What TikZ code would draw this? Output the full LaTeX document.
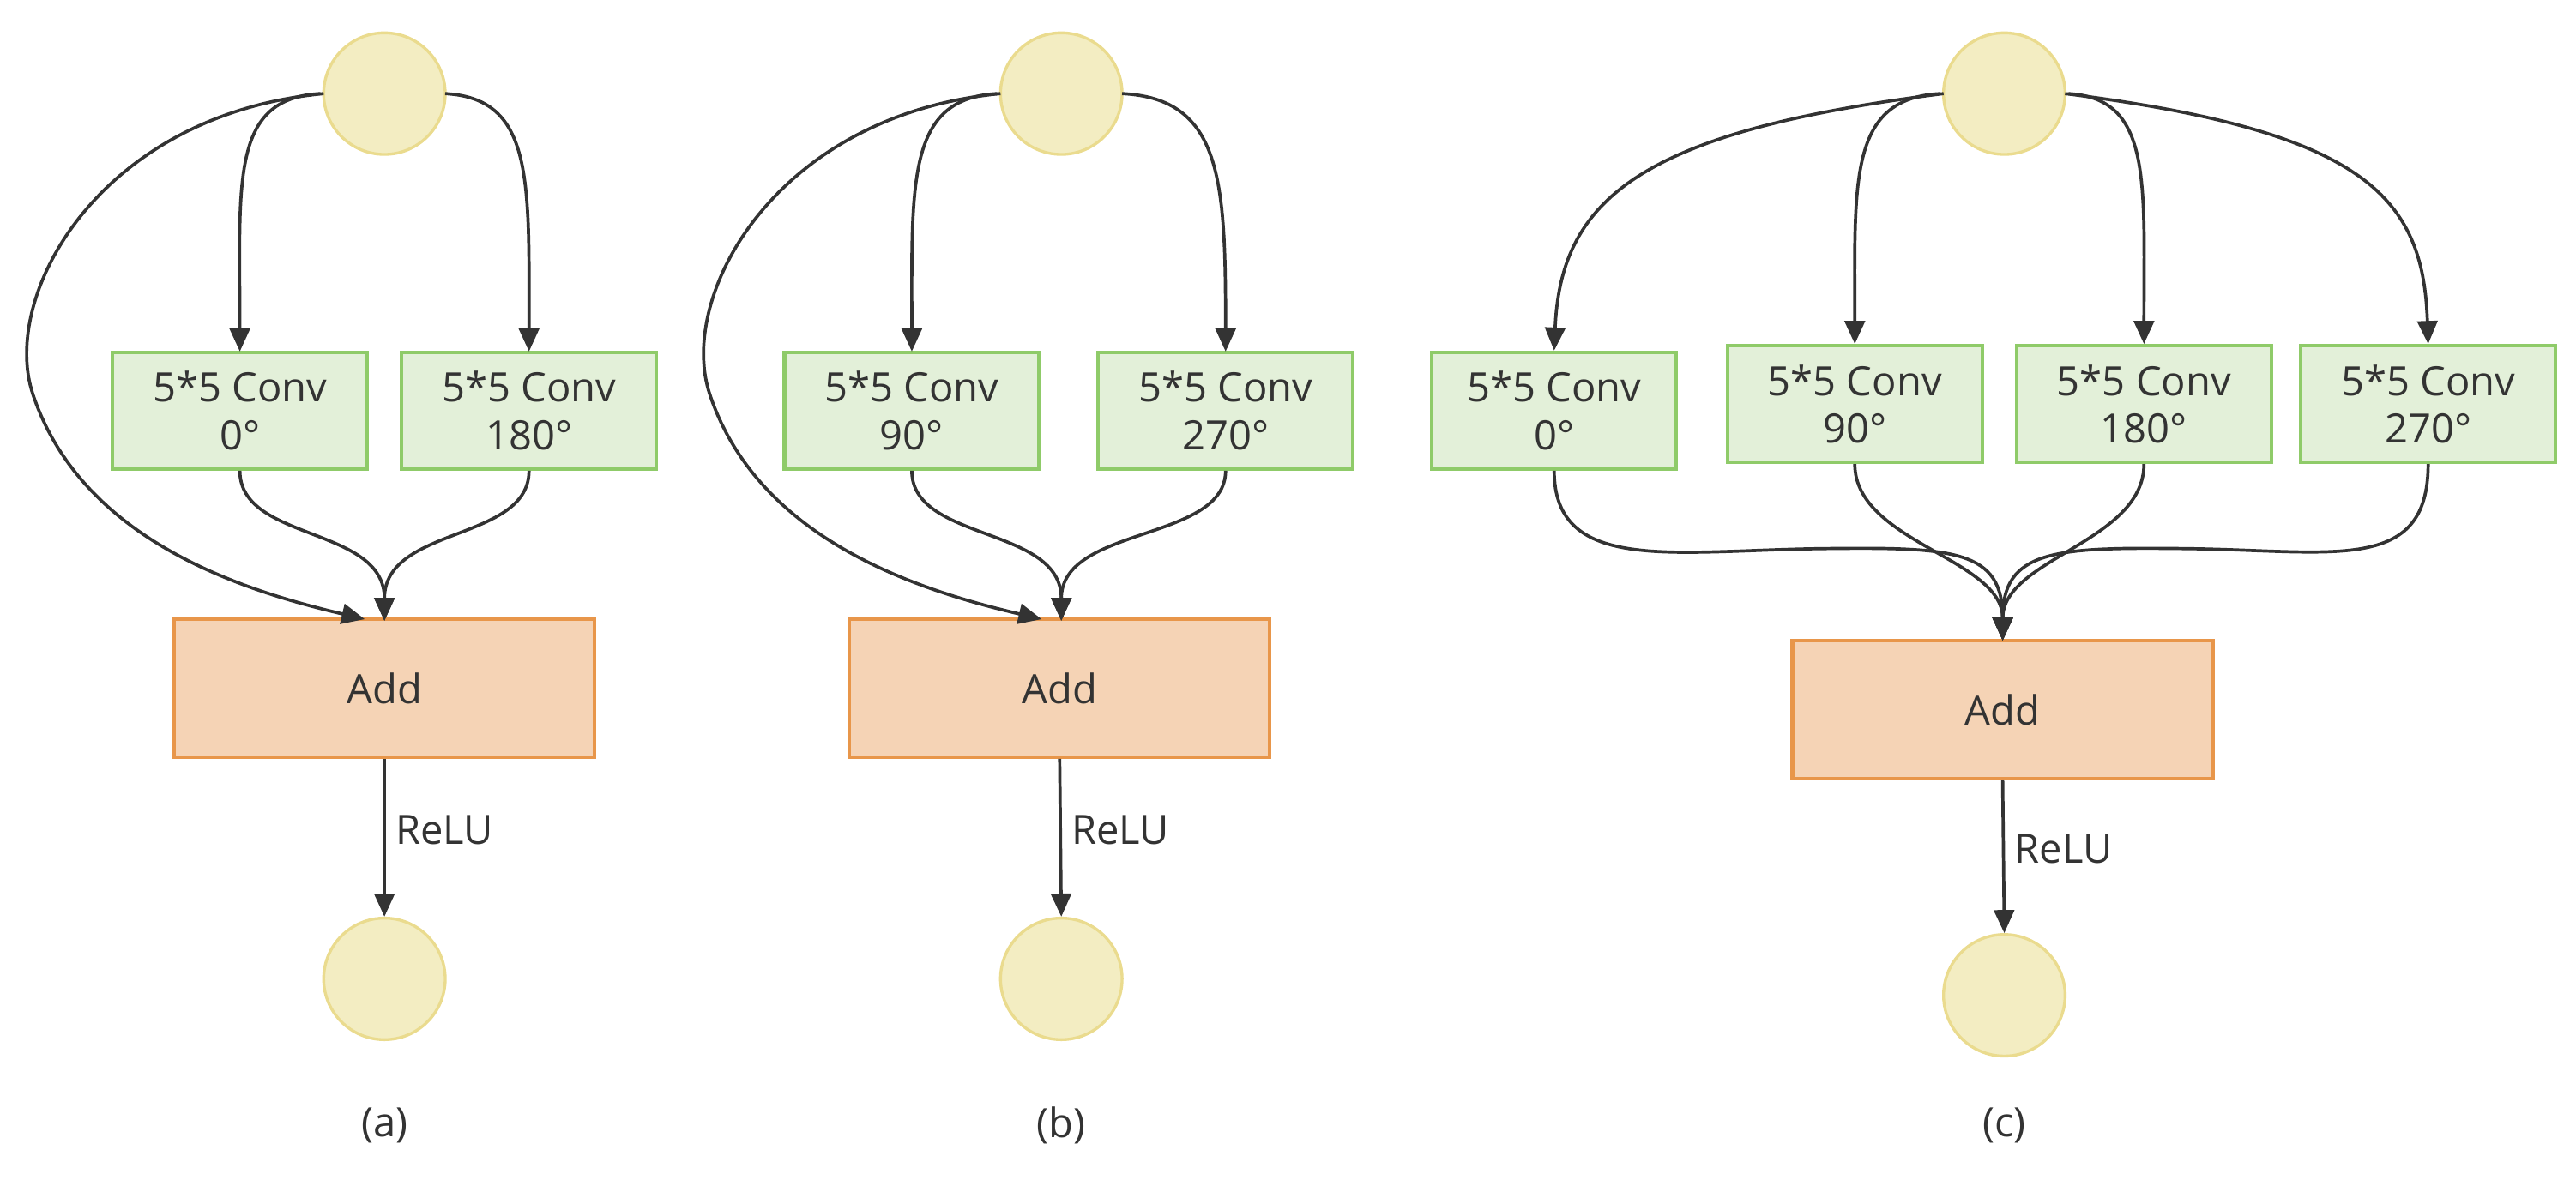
\documentclass[tikz,border=0pt]{standalone}
\usepackage{fontspec}
\setmainfont{Open Sans}
\usetikzlibrary{arrows.meta}
\definecolor{cfill}{HTML}{F3EDC2}\definecolor{cdraw}{HTML}{EADB8E}
\definecolor{gfill}{HTML}{E3F0D9}\definecolor{gdraw}{HTML}{8FCB69}
\definecolor{ofill}{HTML}{F5D3B5}\definecolor{odraw}{HTML}{E8964A}
\definecolor{ln}{HTML}{333333}
\begin{document}
\begin{tikzpicture}[x=0.02cm,y=-0.02cm,font=\fontsize{14}{16}\selectfont,
 circ/.style={circle,fill=cfill,draw=cdraw,line width=1pt,minimum size=74*0.02cm,inner sep=0},
 conv/.style={rectangle,fill=gfill,draw=gdraw,line width=1.2pt,minimum width=155*0.02cm,minimum height=71*0.02cm,align=center,inner sep=0,text=ln,font=\fontsize{14}{16.5}\selectfont},
 add/.style={rectangle,fill=ofill,draw=odraw,line width=1.2pt,minimum width=256*0.02cm,minimum height=84*0.02cm,text=ln},
 ar/.style={draw=ln,line width=1.1pt,-{Triangle[length=8pt,width=7pt]}},
 lbl/.style={text=ln}]
\useasboundingbox (0,0) rectangle (1568,718);
% (a)
\node[circ] (ta) at (234,57) {};
\node[conv] (a0) at (146,250) {5*5 Conv\\0°};
\node[conv] (a1) at (322,250) {5*5 Conv\\180°};
\node[add] (aa) at (234,419) {Add};
\node[circ] (ba) at (234,596) {};
\node[lbl] (la) at (234,685) {(a)};
\draw[ar] (197,57) .. controls (60,70) and (0,180) .. (20,240) .. controls (50,330) and (150,360) .. (222,377);
\draw[ar] (195,57) .. controls (140,60) and (146,110) .. (146,214);
\draw[ar] (271,57) .. controls (325,60) and (322,110) .. (322,214);
\draw[ar] (a0.south) .. controls (146,330) and (234,320) .. (234,378);
\draw[ar] (a1.south) .. controls (322,330) and (234,320) .. (234,378);
\draw[ar] (aa.south) -- (ba.north) node[pos=0.45,right,lbl] {ReLU};
% (b)
\node[circ] (tb) at (646,57) {};
\node[conv] (b0) at (555,250) {5*5 Conv\\90°};
\node[conv] (b1) at (746,250) {5*5 Conv\\270°};
\node[add] (ab) at (645,419) {Add};
\node[circ] (bb) at (646,596) {};
\node[lbl] (lb) at (646,685) {(b)};
\draw[ar] (609,57) .. controls (472,70) and (412,180) .. (432,240) .. controls (462,330) and (562,360) .. (634,377);
\draw[ar] (607,57) .. controls (552,60) and (555,110) .. (555,214);
\draw[ar] (683,57) .. controls (744,60) and (746,110) .. (746,214);
\draw[ar] (b0.south) .. controls (555,330) and (646,320) .. (646,378);
\draw[ar] (b1.south) .. controls (746,330) and (646,320) .. (646,378);
\draw[ar] (ab.south) -- (bb.north) node[pos=0.45,right,lbl] {ReLU};
% (c)
\node[circ] (tc) at (1220,57) {};
\node[conv,minimum width=149*0.02cm] (c0) at (946,250) {5*5 Conv\\0°};
\node[conv] (c1) at (1129,246) {5*5 Conv\\90°};
\node[conv] (c2) at (1305,246) {5*5 Conv\\180°};
\node[conv] (c3) at (1478,246) {5*5 Conv\\270°};
\node[add] (ac) at (1219,432) {Add};
\node[circ] (bc) at (1220,606) {};
\node[lbl] (lc) at (1220,685) {(c)};
\draw[ar] (1183,57) .. controls (1000,80) and (950,120) .. (c0.north);
\draw[ar] (1181,57) .. controls (1125,60) and (1129,110) .. (c1.north);
\draw[ar] (1259,57) .. controls (1310,60) and (1305,110) .. (c2.north);
\draw[ar] (1257,57) .. controls (1440,80) and (1475,120) .. (c3.north);
\draw[ar] (c0.south) .. controls (946,350) and (1020,335) .. (1110,334) .. controls (1190,333) and (1219,335) .. (1219,390);
\draw[ar] (c1.south) .. controls (1129,330) and (1219,340) .. (1219,390);
\draw[ar] (c2.south) .. controls (1305,330) and (1219,340) .. (1219,390);
\draw[ar] (c3.south) .. controls (1478,350) and (1420,335) .. (1330,334) .. controls (1250,333) and (1219,335) .. (1219,390);
\draw[ar] (ac.south) -- (bc.north) node[pos=0.45,right,lbl] {ReLU};
\end{tikzpicture}
\end{document}
